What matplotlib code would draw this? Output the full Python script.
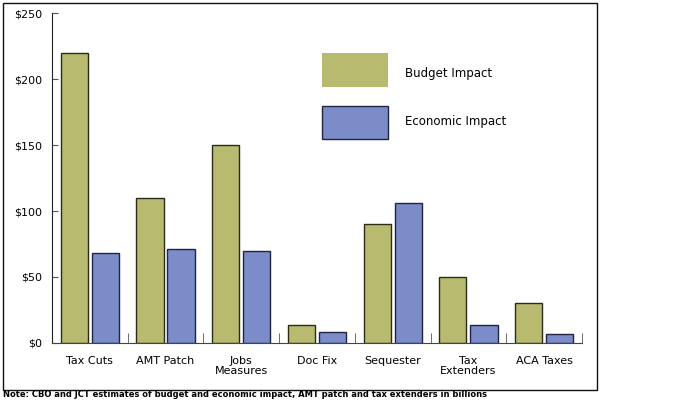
import matplotlib
matplotlib.use('Agg')
import matplotlib.pyplot as plt
from matplotlib.patches import Rectangle
import numpy as np

# 数据（单位：十亿美元）
categories = ['Tax Cuts', 'AMT Patch', 'Jobs\nMeasures', 'Doc Fix',
              'Sequester', 'Tax\nExtenders', 'ACA Taxes']
budget_impact = [220, 110, 150, 14, 90, 50, 30]
economic_impact = [68, 71, 70, 8, 106, 14, 7]
y_ticks = [0, 50, 100, 150, 200, 250]
y_tick_labels = ['$0', '$50', '$100', '$150', '$200', '$250']
series_names = ['Budget Impact', 'Economic Impact']

green = '#b8bb6f'
blue = '#7b8cc9'

fig = plt.figure(figsize=(7, 4), dpi=100)
ax = fig.add_axes([0.0743, 0.1425, 0.757, 0.825])

x = np.arange(len(categories))
w = 0.36
ax.bar(x - 0.205, budget_impact, w, color=green, edgecolor='#2b2b1a', linewidth=1.0)
ax.bar(x + 0.205, economic_impact, w, color=blue, edgecolor='#1f2540', linewidth=1.0)

ax.set_xlim(-0.5, len(categories) - 0.5)
ax.set_ylim(0, 250)

# 坐标轴样式
for s in ['top', 'right']:
    ax.spines[s].set_visible(False)
ax.spines['left'].set_color('#222222')
ax.spines['bottom'].set_color('#444444')

ax.set_yticks(y_ticks)
ax.set_yticklabels(y_tick_labels, fontsize=8)
ax.tick_params(axis='y', direction='in', length=4, pad=7, color='#555555')

ax.set_xticks(x)
ax.set_xticklabels(categories, fontsize=8, linespacing=1.1)
ax.tick_params(axis='x', which='major', length=0, pad=9)
ax.set_xticks(np.arange(0.5, len(categories), 1.0), minor=True)
ax.tick_params(axis='x', which='minor', direction='in', length=7, color='#555555')

# 图例（手工画色块）
fig.patches.append(Rectangle((322 / 700, 1 - 87 / 400), 66 / 700, 34 / 400,
                             transform=fig.transFigure, facecolor=green,
                             edgecolor='none'))
fig.patches.append(Rectangle((322 / 700, 1 - 139 / 400), 66 / 700, 33 / 400,
                             transform=fig.transFigure, facecolor=blue,
                             edgecolor='#1f2540', linewidth=1.0))
fig.text(405 / 700, 1 - 73 / 400, series_names[0], fontsize=8.5, va='center')
fig.text(405 / 700, 1 - 122 / 400, series_names[1], fontsize=8.5, va='center')

# 外框
fig.patches.append(Rectangle((3 / 700, 1 - 390 / 400), 594 / 700, 387 / 400,
                             transform=fig.transFigure, facecolor='none',
                             edgecolor='#111111', linewidth=1.0))

# 底部注释
fig.text(3 / 700, 1 / 400,
         'Note: CBO and JCT estimates of budget and economic impact, AMT patch and tax extenders in billions',
         fontsize=6, fontweight='bold', va='bottom', ha='left')

fig.savefig('out.png', dpi=100)
